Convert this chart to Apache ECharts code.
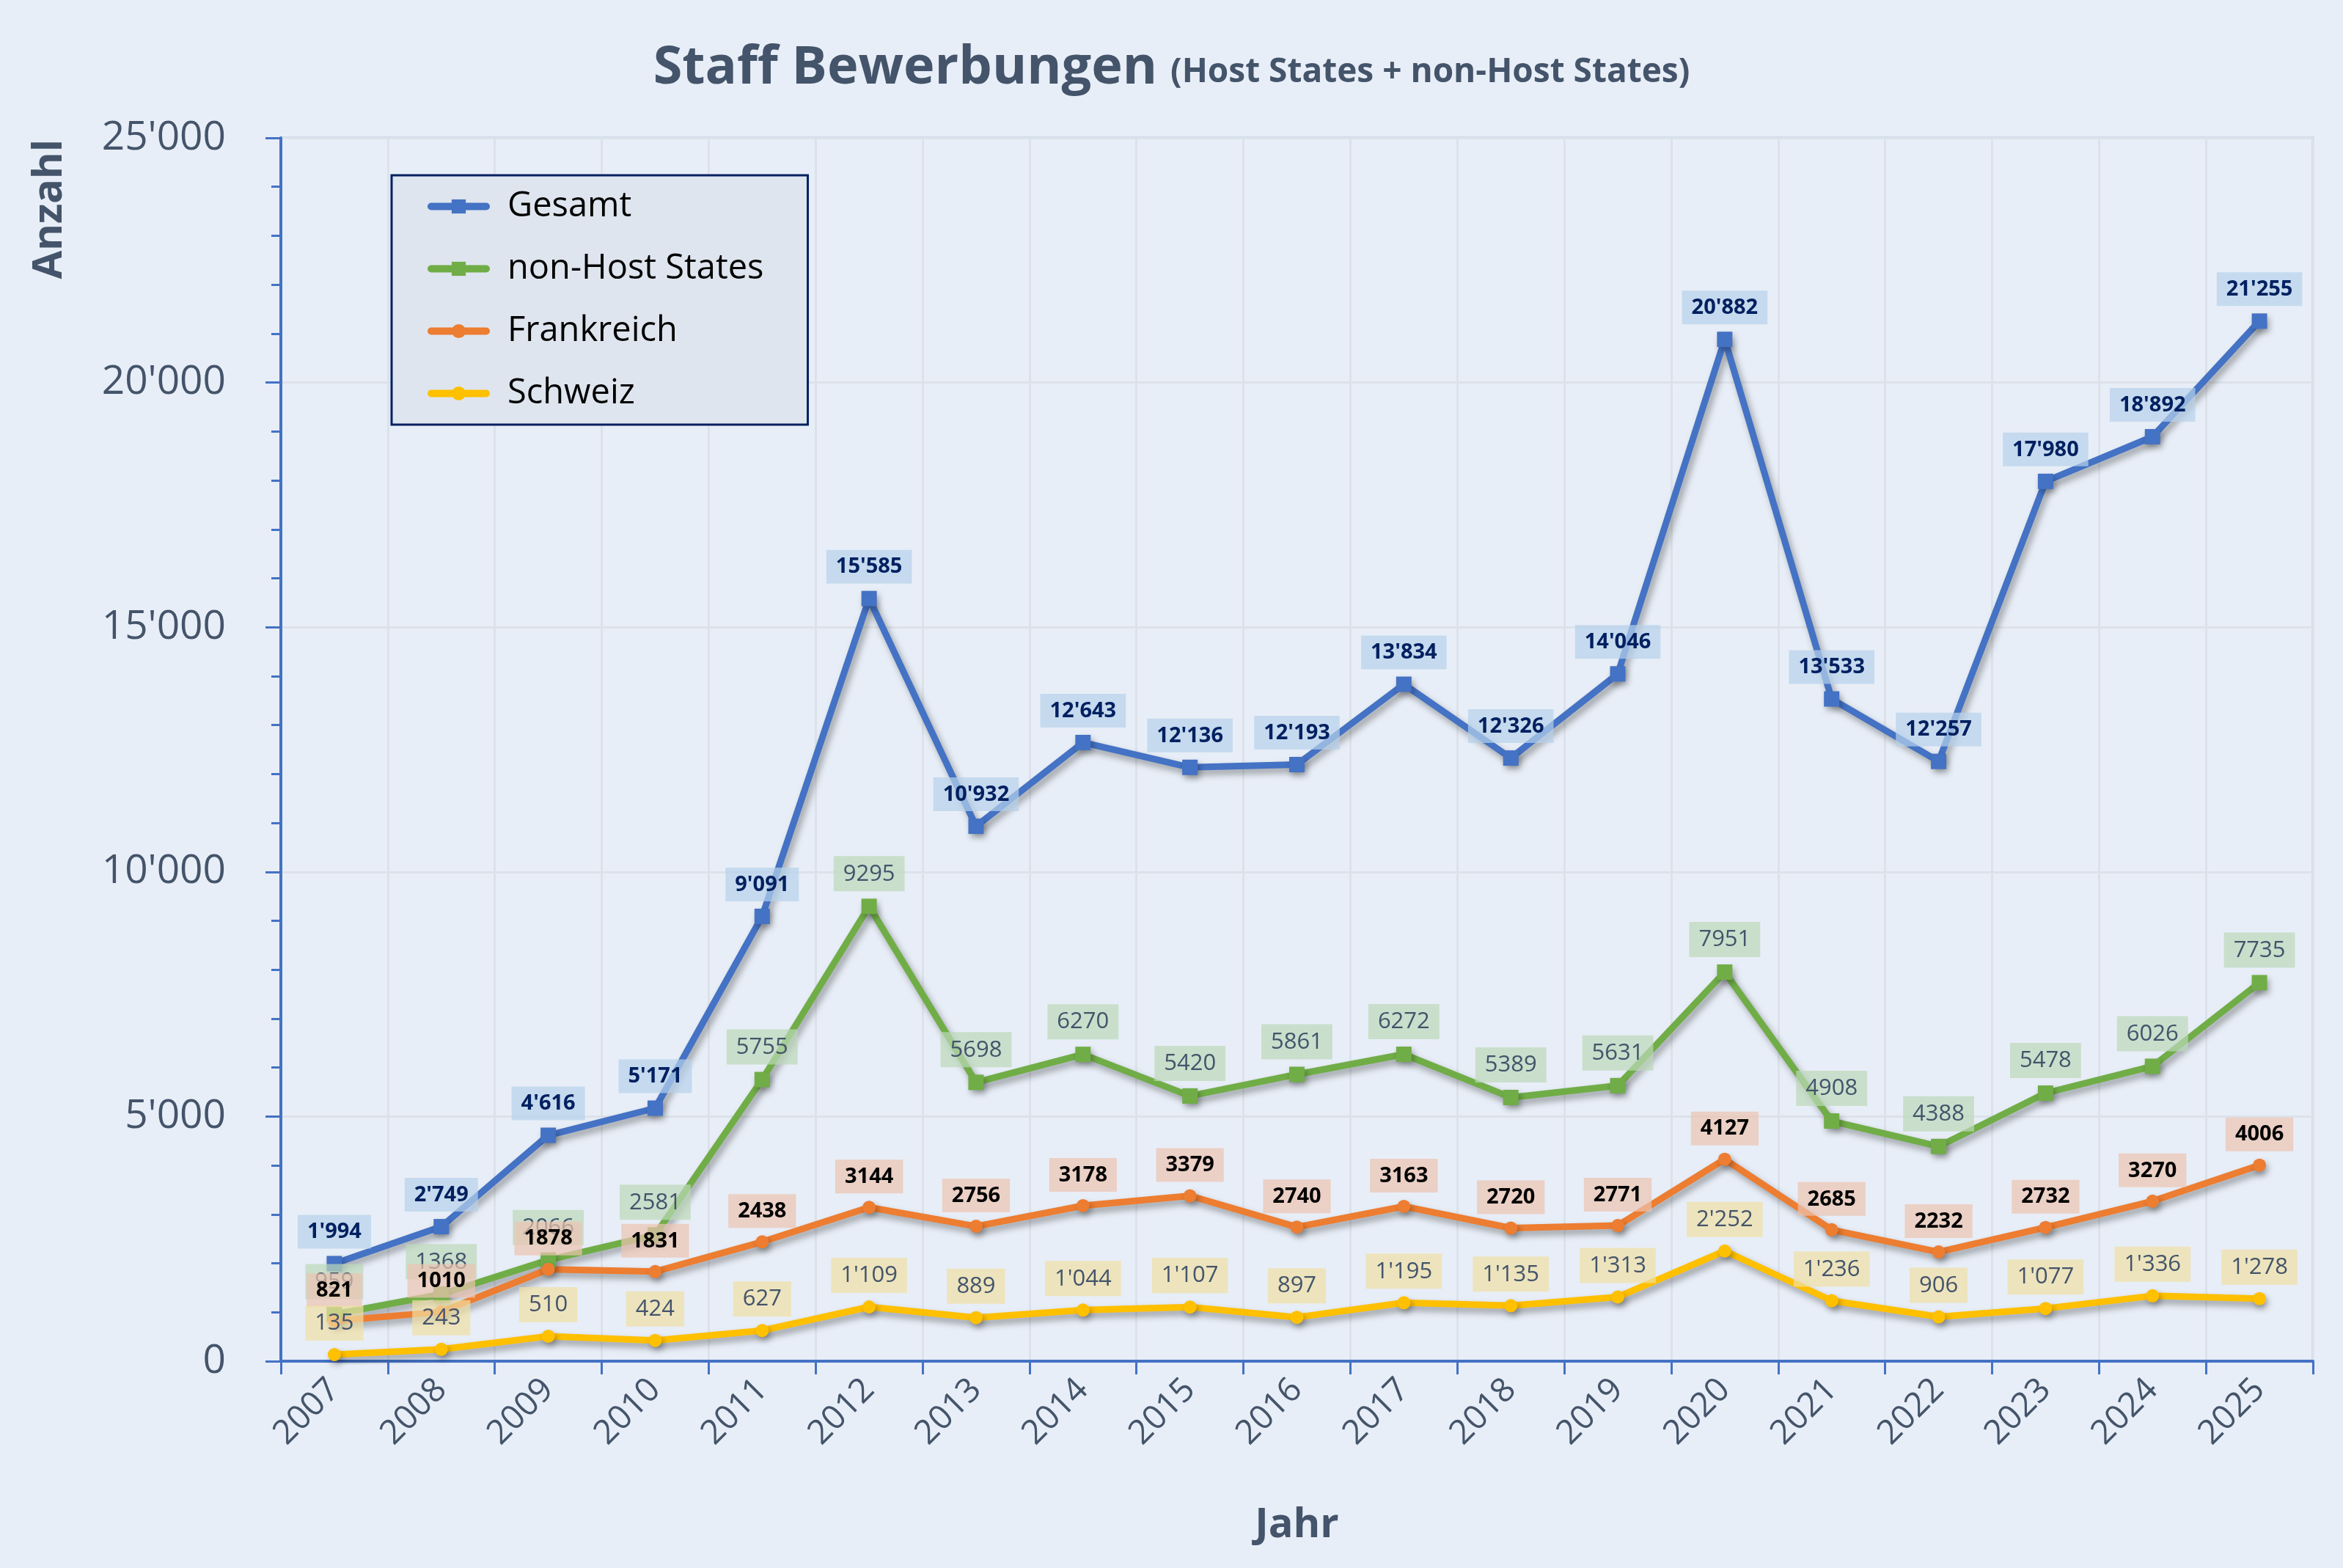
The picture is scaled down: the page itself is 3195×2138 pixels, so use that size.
<!DOCTYPE html>
<html>
<head>
<meta charset="utf-8">
<title>Staff Bewerbungen</title>
<script src="https://cdn.jsdelivr.net/npm/echarts@6/dist/echarts.min.js"></script>
<style>
	html, body { margin: 0; padding: 0; background: #e8eef7; }
	#main { width: 3195px; height: 2138px; }
</style>
</head>
<body>
<div id="main"></div>
<script>
var years = ['2007', '2008', '2009', '2010', '2011', '2012', '2013', '2014', '2015', '2016',
	'2017', '2018', '2019', '2020', '2021', '2022', '2023', '2024', '2025'];
var gesamt = [1994, 2749, 4616, 5171, 9091, 15585, 10932, 12643, 12136, 12193,
	13834, 12326, 14046, 20882, 13533, 12257, 17980, 18892, 21255];
var nonHost = [959, 1368, 2066, 2581, 5755, 9295, 5698, 6270, 5420, 5861,
	6272, 5389, 5631, 7951, 4908, 4388, 5478, 6026, 7735];
var frankreich = [821, 1010, 1878, 1831, 2438, 3144, 2756, 3178, 3379, 2740,
	3163, 2720, 2771, 4127, 2685, 2232, 2732, 3270, 4006];
var schweiz = [135, 243, 510, 424, 627, 1109, 889, 1044, 1107, 897,
	1195, 1135, 1313, 2252, 1236, 906, 1077, 1336, 1278];
var yTicks = [0, 5000, 10000, 15000, 20000, 25000];

var font = '"Open Sans", "Noto Sans", sans-serif';
var grey = '#44546a';
var axisBlue = '#4472c4';

// 1'234 style
function fmt(v) {
	return String(v).replace(/\B(?=(\d{3})+(?!\d))/g, "'");
}

function makeSeries(name, data, color, symbol, size, lab) {
	return {
		name: name,
		type: 'line',
		data: data,
		symbol: symbol,
		symbolSize: size,
		lineStyle: {
			width: 9,
			color: color,
			shadowColor: 'rgba(0,0,0,0.35)',
			shadowBlur: 10,
			shadowOffsetX: 4,
			shadowOffsetY: 6
		},
		itemStyle: {
			color: color,
			shadowColor: 'rgba(0,0,0,0.3)',
			shadowBlur: 8,
			shadowOffsetX: 3,
			shadowOffsetY: 5
		},
		label: {
			show: true,
			position: 'top',
			distance: 10,
			fontFamily: font,
			fontSize: lab.bold ? 29 : 31,
			fontWeight: lab.bold ? 'bold' : 'normal',
			color: lab.color,
			backgroundColor: lab.bg,
			padding: [9, 13, 8, 13],
			formatter: function (p) { return lab.sep ? fmt(p.value) : String(p.value); }
		},
		emphasis: { disabled: true }
	};
}

var myChart = echarts.init(document.getElementById('main'));
var option = {
	backgroundColor: '#e8eef7',
	animation: false,
	title: {
		text: '{a|Staff Bewerbungen}{b|(Host States + non-Host States)}',
		left: 'center',
		top: 52,
		textStyle: {
			rich: {
				a: { fontFamily: font, fontSize: 72, fontWeight: 'bold', color: grey },
				b: { fontFamily: font, fontSize: 46, fontWeight: 'bold', color: grey, padding: [12, 0, 0, 18] }
			}
		}
	},
	legend: {
		orient: 'vertical',
		left: 534,
		top: 239,
		padding: [19, 60, 19, 49],
		itemGap: 38,
		itemWidth: 75,
		itemHeight: 24,
		backgroundColor: '#dfe5ee',
		borderColor: '#002060',
		borderWidth: 3,
		lineStyle: { width: 10, cap: 'round', shadowBlur: 0 },
		itemStyle: { shadowBlur: 0 },
		textStyle: {
			fontFamily: font,
			fontSize: 47,
			color: '#000',
			padding: [0, 0, 0, 24]
		},
		data: ['Gesamt', 'non-Host States', 'Frankreich', 'Schweiz']
	},
	grid: {
		left: 383,
		right: 41,
		top: 188,
		bottom: 282,
		show: true,
		backgroundColor: 'transparent',
		borderColor: '#b4c7e7',
		borderWidth: 3
	},
	graphic: [{
		type: 'text',
		left: 40,
		top: 190,
		rotation: Math.PI / 2,
		style: {
			text: 'Anzahl',
			fontFamily: font,
			fontSize: 56,
			fontWeight: 'bold',
			fill: grey
		}
	}],
	xAxis: {
		type: 'category',
		data: years,
		boundaryGap: true,
		name: 'Jahr',
		nameLocation: 'middle',
		nameGap: 196,
		nameTextStyle: { fontFamily: font, fontSize: 56, fontWeight: 'bold', color: grey },
		axisLine: { lineStyle: { color: axisBlue, width: 4 } },
		axisTick: { show: true, length: 18, lineStyle: { color: axisBlue, width: 3 } },
		axisLabel: { rotate: 45, fontFamily: font, fontSize: 46, color: grey, margin: 32 },
		splitLine: { show: true, lineStyle: { color: '#dde2ea', width: 3 } }
	},
	yAxis: {
		type: 'value',
		min: yTicks[0],
		max: yTicks[yTicks.length - 1],
		interval: yTicks[1] - yTicks[0],
		axisLine: { show: true, lineStyle: { color: axisBlue, width: 4 } },
		axisTick: { show: true, length: 21, lineStyle: { color: axisBlue, width: 3 } },
		minorTick: { show: true, splitNumber: 5, length: 13, lineStyle: { color: axisBlue, width: 3 } },
		axisLabel: {
			fontFamily: font,
			fontSize: 55,
			color: grey,
			margin: 75,
			formatter: function (v) { return fmt(v); }
		},
		splitLine: { show: true, lineStyle: { color: '#dde2ea', width: 3 } }
	},
	series: [
		makeSeries('Gesamt', gesamt, '#4472c4', 'rect', 21,
			{ bold: true, color: '#002060', bg: 'rgba(182,209,235,0.7)', sep: true }),
		makeSeries('non-Host States', nonHost, '#70ad47', 'rect', 21,
			{ bold: false, color: grey, bg: 'rgba(188,217,185,0.7)', sep: false }),
		makeSeries('Frankreich', frankreich, '#ed7d31', 'circle', 18,
			{ bold: true, color: '#000', bg: 'rgba(236,195,177,0.7)', sep: false }),
		makeSeries('Schweiz', schweiz, '#ffc000', 'circle', 18,
			{ bold: false, color: grey, bg: 'rgba(239,224,164,0.7)', sep: true })
	]
};
myChart.setOption(option);
</script>
</body>
</html>
